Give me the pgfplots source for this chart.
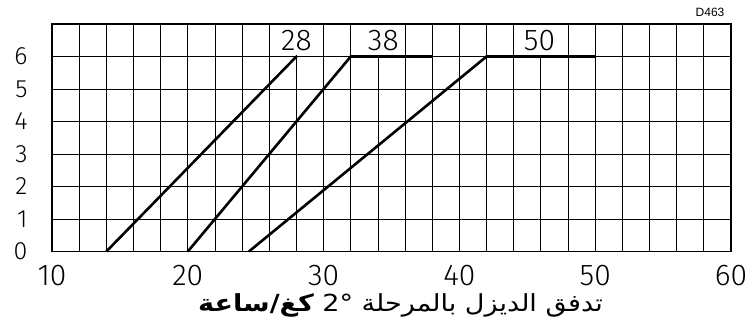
\documentclass[border=0pt]{standalone}
\usepackage{fontspec}
\usepackage{pgfplots}
\pgfplotsset{compat=1.18}
\TeXXeTstate=1
\setmainfont{Liberation Sans}
\newfontfamily\cadfont{Fira Sans Light}
\newfontfamily\arabicfont[Script=Arabic]{DejaVu Sans}

\begin{document}
\begin{tikzpicture}[
  curvecaption/.style={fill=white, inner xsep=2pt, inner ysep=0pt,
    minimum height=30pt, font=\cadfont\fontsize{30}{30}\selectfont}]
\begin{axis}[
  scale only axis,
  width=679pt, height=227.5pt,
  xmin=10, xmax=60, ymin=0, ymax=7,
  xtick={10,20,...,60},
  minor xtick={12,14,...,58},
  ytick={0,1,...,6},
  grid=both,
  major grid style={black, line width=0.8pt},
  minor grid style={black, line width=0.8pt},
  major tick length=0pt, minor tick length=0pt,
  axis line style={black, line width=1.8pt},
  /pgf/number format/assume math mode=true,
  xticklabel style={font=\cadfont\fontsize{30}{30}\selectfont, yshift=-10pt},
  yticklabel style={font=\cadfont\fontsize{25}{25}\selectfont, xshift=-21pt},
  xlabel={\scalebox{1.15}[1]{\arabicfont\beginR تدفق الديزل بالمرحلة \beginL 2°\endL{} {\bfseries كغ/ساعة}\endR}},
  xlabel style={font=\fontsize{23.5}{25}\selectfont, yshift=-1pt, xshift=9pt},
  clip=false,
]
  % flow curves for each stage setting
  \addplot[black, line width=2.6pt] coordinates {(14,0) (28,6)};
  \addplot[black, line width=2.6pt] coordinates {(20,0) (32,6) (38,6)};
  \addplot[black, line width=2.6pt] coordinates {(24.5,0) (42,6) (50,6)};

  % curve captions on a white ground
  \node[curvecaption] at (axis cs:28,6.5) {28};
  \node[curvecaption] at (axis cs:34.4,6.5) {38};
  \node[curvecaption] at (axis cs:45.9,6.5) {50};

  \coordinate (ll) at (rel axis cs:0,0);
  \coordinate (ur) at (rel axis cs:1,1);
\end{axis}
\node[font=\fontsize{12}{12}\selectfont] at ([shift={(-21pt,12pt)}]ur) {D463};
\pgfresetboundingbox
\path[use as bounding box] ([shift={(-52pt,-77pt)}]ll) rectangle ([shift={(24pt,24pt)}]ur);
\end{tikzpicture}
\end{document}
